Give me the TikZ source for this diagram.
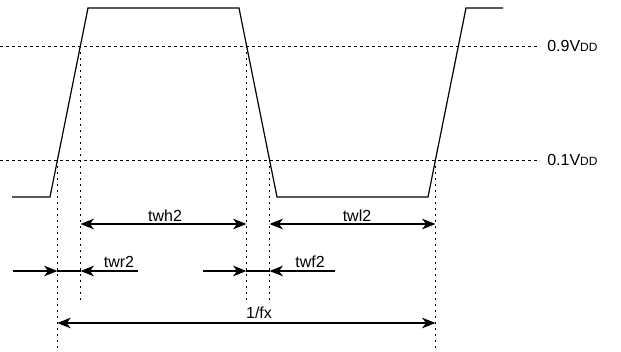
\documentclass[tikz,border=0pt]{standalone}
\usepackage{fontspec}
\setmainfont{Liberation Sans}
\usetikzlibrary{arrows.meta}
\begin{document}
\begin{tikzpicture}[x=0.75pt,y=-0.75pt,
  >={Stealth[length=10pt,width=8pt,inset=3pt]},
  wave/.style={line width=0.9pt},
  hguide/.style={line width=0.75pt,dash pattern=on 2.25pt off 2.25pt},
  vguide/.style={line width=0.75pt,dash pattern=on 1.5pt off 3pt},
  dimline/.style={line width=0.9pt},
  lbl/.style={font=\fontsize{12}{14}\selectfont, inner sep=0pt, anchor=base},
  lvl/.style={font=\fontsize{12}{14}\selectfont, inner sep=0pt, anchor=west}]
\useasboundingbox (0,0) rectangle (621,351);
% waveform points
\coordinate (w0) at (12,197);
\coordinate (w1) at (50,197);
\coordinate (w2) at (88,8);
\coordinate (w3) at (239,8);
\coordinate (w4) at (277,197);
\coordinate (w5) at (428,197);
\coordinate (w6) at (466,8);
\coordinate (w7) at (503,8);
\draw[wave] (w0) -- (w1) -- (w2) -- (w3) -- (w4) -- (w5) -- (w6) -- (w7);
% level guides
\coordinate (h9a) at (0,46);
\coordinate (h9b) at (540,46);
\coordinate (h1a) at (0,160);
\coordinate (h1b) at (540,160);
\draw[hguide] (h9a) -- (h9b);
\draw[hguide] (h1a) -- (h1b);
\node[lvl] (l9) at (547,46) {0.9V{\fontsize{9}{11}\selectfont DD}};
\node[lvl] (l1) at (547,160) {0.1V{\fontsize{9}{11}\selectfont DD}};
% vertical guides
\coordinate (v1t) at (57.4,160);  \coordinate (v1b) at (57.4,350);
\coordinate (v2t) at (80.6,46);   \coordinate (v2b) at (80.6,300);
\coordinate (v3t) at (246.4,46);  \coordinate (v3b) at (246.4,300);
\coordinate (v4t) at (269.6,160); \coordinate (v4b) at (269.6,300);
\coordinate (v5t) at (435.4,160); \coordinate (v5b) at (435.4,350);
\draw[vguide] (v1t) -- (v1b);
\draw[vguide] (v2t) -- (v2b);
\draw[vguide] (v3t) -- (v3b);
\draw[vguide] (v4t) -- (v4b);
\draw[vguide] (v5t) -- (v5b);
% twh2 / twl2
\coordinate (a1) at (80.6,224);  \coordinate (a2) at (246.4,224);
\coordinate (a3) at (269.6,224); \coordinate (a4) at (435.4,224);
\draw[dimline,<->] (a1) -- (a2);
\draw[dimline,<->] (a3) -- (a4);
\node[lbl] (twh) at (165,221) {twh2};
\node[lbl] (twl) at (357,221) {twl2};
% twr2
\coordinate (r0) at (13,271);  \coordinate (r1) at (57.4,271);
\coordinate (r2) at (80.6,271); \coordinate (r3) at (138,271);
\draw[dimline,->] (r0) -- (r1);
\draw[dimline] (r1) -- (r2);
\draw[dimline,->] (r3) -- (r2);
\node[lbl] (twr) at (119,267) {twr2};
% twf2
\coordinate (f0) at (203,271);  \coordinate (f1) at (246.4,271);
\coordinate (f2) at (269.6,271); \coordinate (f3) at (335,271);
\draw[dimline,->] (f0) -- (f1);
\draw[dimline] (f1) -- (f2);
\draw[dimline,->] (f3) -- (f2);
\node[lbl] (twf) at (310,267) {twf2};
% 1/fx
\coordinate (p1) at (57.4,323); \coordinate (p2) at (435.4,323);
\draw[dimline,<->] (p1) -- (p2);
\node[lbl] (per) at (259,318) {1/fx};
\end{tikzpicture}
\end{document}
